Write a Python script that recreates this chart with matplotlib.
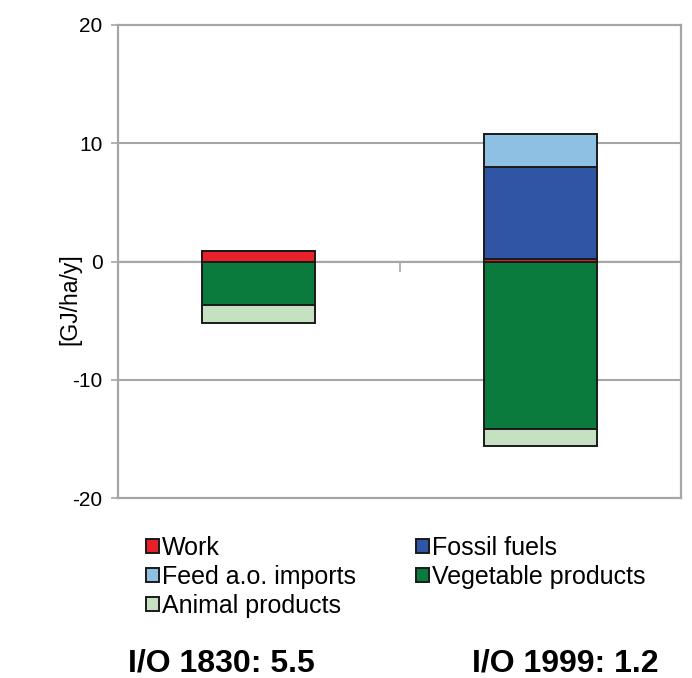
import matplotlib.pyplot as plt
import numpy as np

# values, GJ/ha/y
years = ["1830", "1999"]
work = [0.9, 0.2]
fossil = [0.0, 7.8]
feed = [0.0, 2.8]
vegetable = [-3.7, -14.2]
animal = [-1.5, -1.4]
io_labels = ["I/O 1830: 5.5", "I/O 1999: 1.2"]

plt.rcParams["font.family"] = ["Liberation Sans", "DejaVu Sans"]
plt.rcParams["axes.unicode_minus"] = False

GRID = "#a6a6a6"
EDGE = "#1a1a1a"

fig = plt.figure(figsize=(6.92, 6.78), dpi=100)
ax = fig.add_axes([118 / 692, 1 - 498 / 678, 563 / 692, 473 / 678])

x = np.arange(len(years))
w = 0.4
kw = dict(width=w, edgecolor=EDGE, linewidth=1.4, zorder=3)

# positive stack
ax.bar(x, work, color="#e8202a", label="Work", **kw)
ax.bar(x, fossil, bottom=work, color="#2f55a4", label="Fossil fuels", **kw)
ax.bar(x, feed, bottom=np.add(work, fossil), color="#8ec0e4",
       label="Feed a.o. imports", **kw)
# negative stack
ax.bar(x, vegetable, color="#0a7a3d", label="Vegetable products", **kw)
ax.bar(x, animal, bottom=vegetable, color="#c6e0c2", label="Animal products", **kw)

ax.set_xlim(-0.5, 1.5)
ax.set_ylim(-20, 20)
ax.set_yticks([-20, -10, 0, 10, 20])
ax.set_xticks([])
ax.tick_params(axis="y", length=5, width=1.2, color=GRID, labelsize=15, pad=6)
for y in [-10, 0, 10]:
    ax.axhline(y, color=GRID, linewidth=1.5, zorder=1)
for s in ax.spines.values():
    s.set_color(GRID)
    s.set_linewidth(1.6)

# category axis sits on the zero line, tick between the two bars
sec = ax.secondary_xaxis(0.5)
sec.set_xticks([0.5])
sec.xaxis.set_ticks_position("bottom")
sec.tick_params(length=7, width=1.2, color=GRID, labelbottom=False)
sec.spines["bottom"].set_visible(False)

ax.set_ylabel("[GJ/ha/y]", fontsize=16.5)
ax.yaxis.set_label_coords(-0.065, 0.42)

handles, labels = ax.get_legend_handles_labels()
order = [0, 2, 4, 1, 3]  # Work, Feed, Animal | Fossil, Vegetable
fig.legend([handles[i] for i in order], [labels[i] for i in order],
           loc="upper left", bbox_to_anchor=(146 / 692, 1 - 536 / 678),
           ncol=2, frameon=False, fontsize=18, handlelength=0.5,
           handleheight=0.5, handletextpad=0.15, labelspacing=0.2,
           columnspacing=2.4, borderpad=0, borderaxespad=0)

for xc, txt in zip([221, 565], io_labels):
    fig.text(xc / 692, 1 - 663 / 678, txt, ha="center", va="center",
             fontsize=23, fontweight="bold")

fig.savefig("out.png", dpi=100)
